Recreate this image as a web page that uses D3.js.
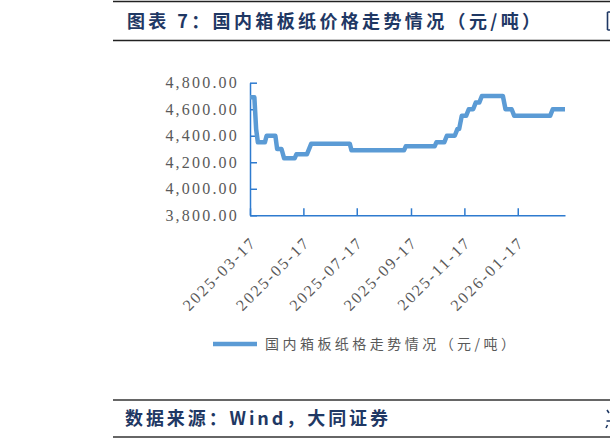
<!DOCTYPE html>
<html>
<head>
<meta charset="utf-8">
<script src="https://cdn.jsdelivr.net/npm/d3@7"></script>
<style>
  html, body { margin: 0; padding: 0; background: #fff; }
  svg { display: block; }
</style>
</head>
<body>
<svg id="chart" width="610" height="440"></svg>
<script>
// ---- data ----
const dates = [
  "2025-03-17","2025-03-22","2025-03-24","2025-03-26","2025-04-03","2025-04-05",
  "2025-04-15","2025-04-17","2025-04-22","2025-04-25","2025-05-07","2025-05-09",
  "2025-05-21","2025-05-26","2025-07-09","2025-07-11","2025-09-09","2025-09-11",
  "2025-10-14","2025-10-16","2025-10-25","2025-10-28","2025-11-06","2025-11-09",
  "2025-11-11","2025-11-14","2025-11-19","2025-11-22","2025-11-27","2025-11-30",
  "2025-12-04","2025-12-07","2025-12-31","2026-01-03","2026-01-10","2026-01-13",
  "2026-02-23","2026-02-26","2026-03-12"
];
const prices = [
  4690,4690,4450,4350,4350,4400,
  4400,4300,4300,4230,4230,4260,
  4260,4340,4340,4290,4290,4320,
  4320,4350,4350,4400,4400,4450,
  4450,4550,4550,4600,4600,4650,
  4650,4700,4700,4600,4600,4550,
  4550,4600,4600
];
const xTickLabels = ["2025-03-17","2025-05-17","2025-07-17","2025-09-17","2025-11-17","2026-01-17"];
const yTickValues = [3800, 4000, 4200, 4400, 4600, 4800];
const titleText = "图表 7：国内箱板纸价格走势情况（元/吨）";
const seriesName = "国内箱板纸格走势情况（元/吨）";
const sourceText = "数据来源：Wind，大同证券";

// ---- drawing ----
const parse = d3.timeParse("%Y-%m-%d");
const data = dates.map((d, i) => ({ date: parse(d), value: prices[i] }));

const svg = d3.select("#chart");
const navy = "#1F3864";
const axisBlue = "#2E7BCF";
const lineBlue = "#5B9BD5";
const grey = "#595959";
const serif = "'Liberation Serif', 'DejaVu Serif', serif";
const cjk = "'Noto Sans CJK SC', 'Noto Sans', sans-serif";

// header / footer rules
svg.append("line").attr("x1", 113).attr("x2", 610).attr("y1", 1.5).attr("y2", 1.5)
  .attr("stroke", "#222").attr("stroke-width", 1.5);
svg.append("line").attr("x1", 113).attr("x2", 610).attr("y1", 40.5).attr("y2", 40.5)
  .attr("stroke", "#222").attr("stroke-width", 1.5);
svg.append("line").attr("x1", 113).attr("x2", 610).attr("y1", 400).attr("y2", 400)
  .attr("stroke", "#333").attr("stroke-width", 1.5);
svg.append("line").attr("x1", 113).attr("x2", 610).attr("y1", 437).attr("y2", 437)
  .attr("stroke", "#333").attr("stroke-width", 1.5);

svg.append("text").attr("x", 127).attr("y", 28)
  .attr("font-family", cjk).attr("font-weight", "bold").attr("font-size", 18)
  .attr("fill", navy).attr("textLength", 413).attr("lengthAdjust", "spacing")
  .text(titleText);

svg.append("text").attr("x", 125).attr("y", 425)
  .attr("font-family", cjk).attr("font-weight", "bold").attr("font-size", 18)
  .attr("fill", navy).attr("textLength", 263).attr("lengthAdjust", "spacing")
  .text(sourceText);

// slivers of the neighbouring column's glyphs at the right edge
svg.append("path").attr("d", "M607.5,12 L607.5,30 M607.5,12 L610,12 M607.5,30 L610,30")
  .attr("stroke", navy).attr("stroke-width", 1.6).attr("fill", "none");
svg.append("path").attr("d", "M607,410 L609,413 M606.5,421 L610,421 M607.5,425 L606,428")
  .attr("stroke", navy).attr("stroke-width", 1.6).attr("fill", "none");

// scales
const x = d3.scaleTime()
  .domain([data[0].date, data[data.length - 1].date])
  .range([250, 565]);
const y = d3.scaleLinear().domain([3800, 4800]).range([215.3, 82.7]);

// y axis
const yAxis = svg.append("g").attr("transform", "translate(250,0)")
  .call(d3.axisLeft(y).tickValues(yTickValues).tickSizeInner(-7).tickSizeOuter(0)
    .tickPadding(13).tickFormat(d3.format(",.2f")));
yAxis.select(".domain").attr("stroke", axisBlue).attr("stroke-width", 1.5);
yAxis.selectAll(".tick line").attr("stroke", axisBlue).attr("stroke-width", 1.5);
yAxis.selectAll(".tick text").attr("font-family", serif).attr("font-size", 16)
  .attr("fill", grey).style("letter-spacing", "2.2px").attr("dx", "2px");

// x axis
const xTicks = xTickLabels.map(parse);
const xAxis = svg.append("g").attr("transform", "translate(0,215.3)")
  .call(d3.axisBottom(x).tickValues(xTicks).tickSizeInner(-7).tickSizeOuter(0)
    .tickFormat(d3.timeFormat("%Y-%m-%d")));
xAxis.select(".domain").attr("stroke", axisBlue).attr("stroke-width", 1.5);
xAxis.selectAll(".tick line").attr("stroke", axisBlue).attr("stroke-width", 1.5);
xAxis.selectAll(".tick text")
  .attr("font-family", serif).attr("font-size", 16).attr("fill", grey)
  .style("letter-spacing", "2.2px")
  .attr("text-anchor", "end")
  .attr("dy", null).attr("y", 0)
  .attr("transform", "translate(7,28) rotate(-45)");

// line
svg.append("path").datum(data)
  .attr("fill", "none").attr("stroke", lineBlue).attr("stroke-width", 4.5)
  .attr("stroke-linejoin", "round").attr("stroke-linecap", "butt")
  .attr("d", d3.line().x(d => x(d.date)).y(d => y(d.value)));

// legend
svg.append("line").attr("x1", 213).attr("x2", 257).attr("y1", 344).attr("y2", 344)
  .attr("stroke", lineBlue).attr("stroke-width", 4.5);
svg.append("text").attr("x", 265).attr("y", 349)
  .attr("font-family", cjk).attr("font-size", 14).attr("fill", grey)
  .attr("textLength", 250).attr("lengthAdjust", "spacing")
  .text(seriesName);
</script>
</body>
</html>
